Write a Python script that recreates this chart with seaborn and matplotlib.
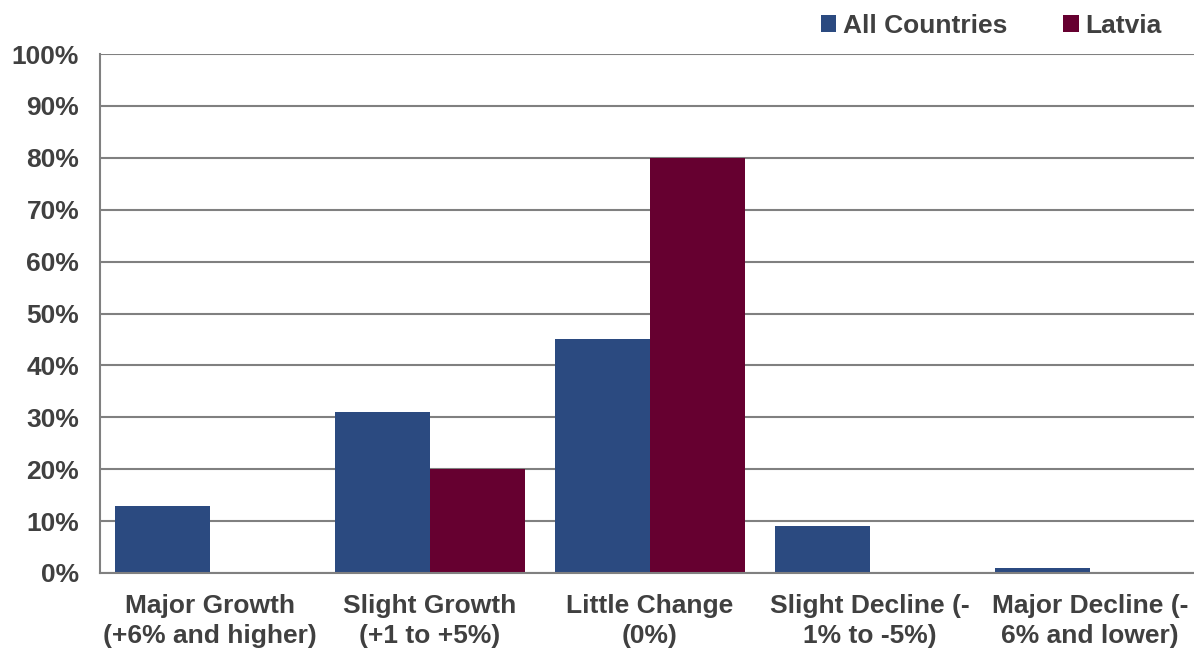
import matplotlib
matplotlib.use("Agg")
import matplotlib.pyplot as plt
from matplotlib.patches import Patch
import seaborn as sns
import pandas as pd

categories = [
    "Major Growth\n(+6% and higher)",
    "Slight Growth\n(+1 to +5%)",
    "Little Change\n(0%)",
    "Slight Decline (-\n1% to -5%)",
    "Major Decline (-\n6% and lower)",
]
all_countries = [13, 31, 45, 9, 1]
latvia = [0, 20, 80, 0, 0]
series_names = ["All Countries", "Latvia"]
colors = ["#2B4A80", "#660030"]

df = pd.DataFrame({
    "category": categories * 2,
    "value": all_countries + latvia,
    "series": [series_names[0]] * len(categories) + [series_names[1]] * len(categories),
})

sns.set_theme(style="white")
plt.rcParams["font.family"] = ["Liberation Sans", "DejaVu Sans"]
text_color = "#404040"
grid_color = "#808080"

fig = plt.figure(figsize=(11.94, 6.5), dpi=100)
ax = fig.add_axes([100 / 1194, 77 / 650, 1100 / 1194, 519 / 650])

sns.barplot(data=df, x="category", y="value", hue="series", palette=colors,
            order=categories, hue_order=series_names, width=0.86,
            saturation=1, linewidth=0, ax=ax, legend=False)

ax.set_ylim(0, 100)
ax.set_xlim(-0.5, len(categories) - 0.5)
ax.set_yticks(range(0, 101, 10))
ax.set_yticklabels([f"{v}%" for v in range(0, 101, 10)])
ax.yaxis.grid(True, color=grid_color, linewidth=1.5)
ax.set_axisbelow(True)
ax.set_xlabel("")
ax.set_ylabel("")
for s in ["top", "right"]:
    ax.spines[s].set_visible(False)
for s in ["left", "bottom"]:
    ax.spines[s].set_color(grid_color)
    ax.spines[s].set_linewidth(1.5)
ax.tick_params(axis="both", length=0, labelsize=19, labelcolor=text_color)
ax.tick_params(axis="y", pad=15)
ax.tick_params(axis="x", pad=15)
for lbl in ax.get_xticklabels() + ax.get_yticklabels():
    lbl.set_fontweight("bold")
for lbl in ax.get_xticklabels():
    lbl.set_linespacing(1.3)

handles = [Patch(facecolor=c, edgecolor="none") for c in colors]
fig.legend(handles, series_names, loc="center", bbox_to_anchor=(991 / 1194, 1 - 26 / 650),
           ncol=2, frameon=False, prop={"weight": "bold", "size": 19},
           labelcolor=text_color, handlelength=0.6, handleheight=0.6,
           handletextpad=0.25, columnspacing=2.1, borderpad=0)

fig.savefig("out.png", dpi=100)
